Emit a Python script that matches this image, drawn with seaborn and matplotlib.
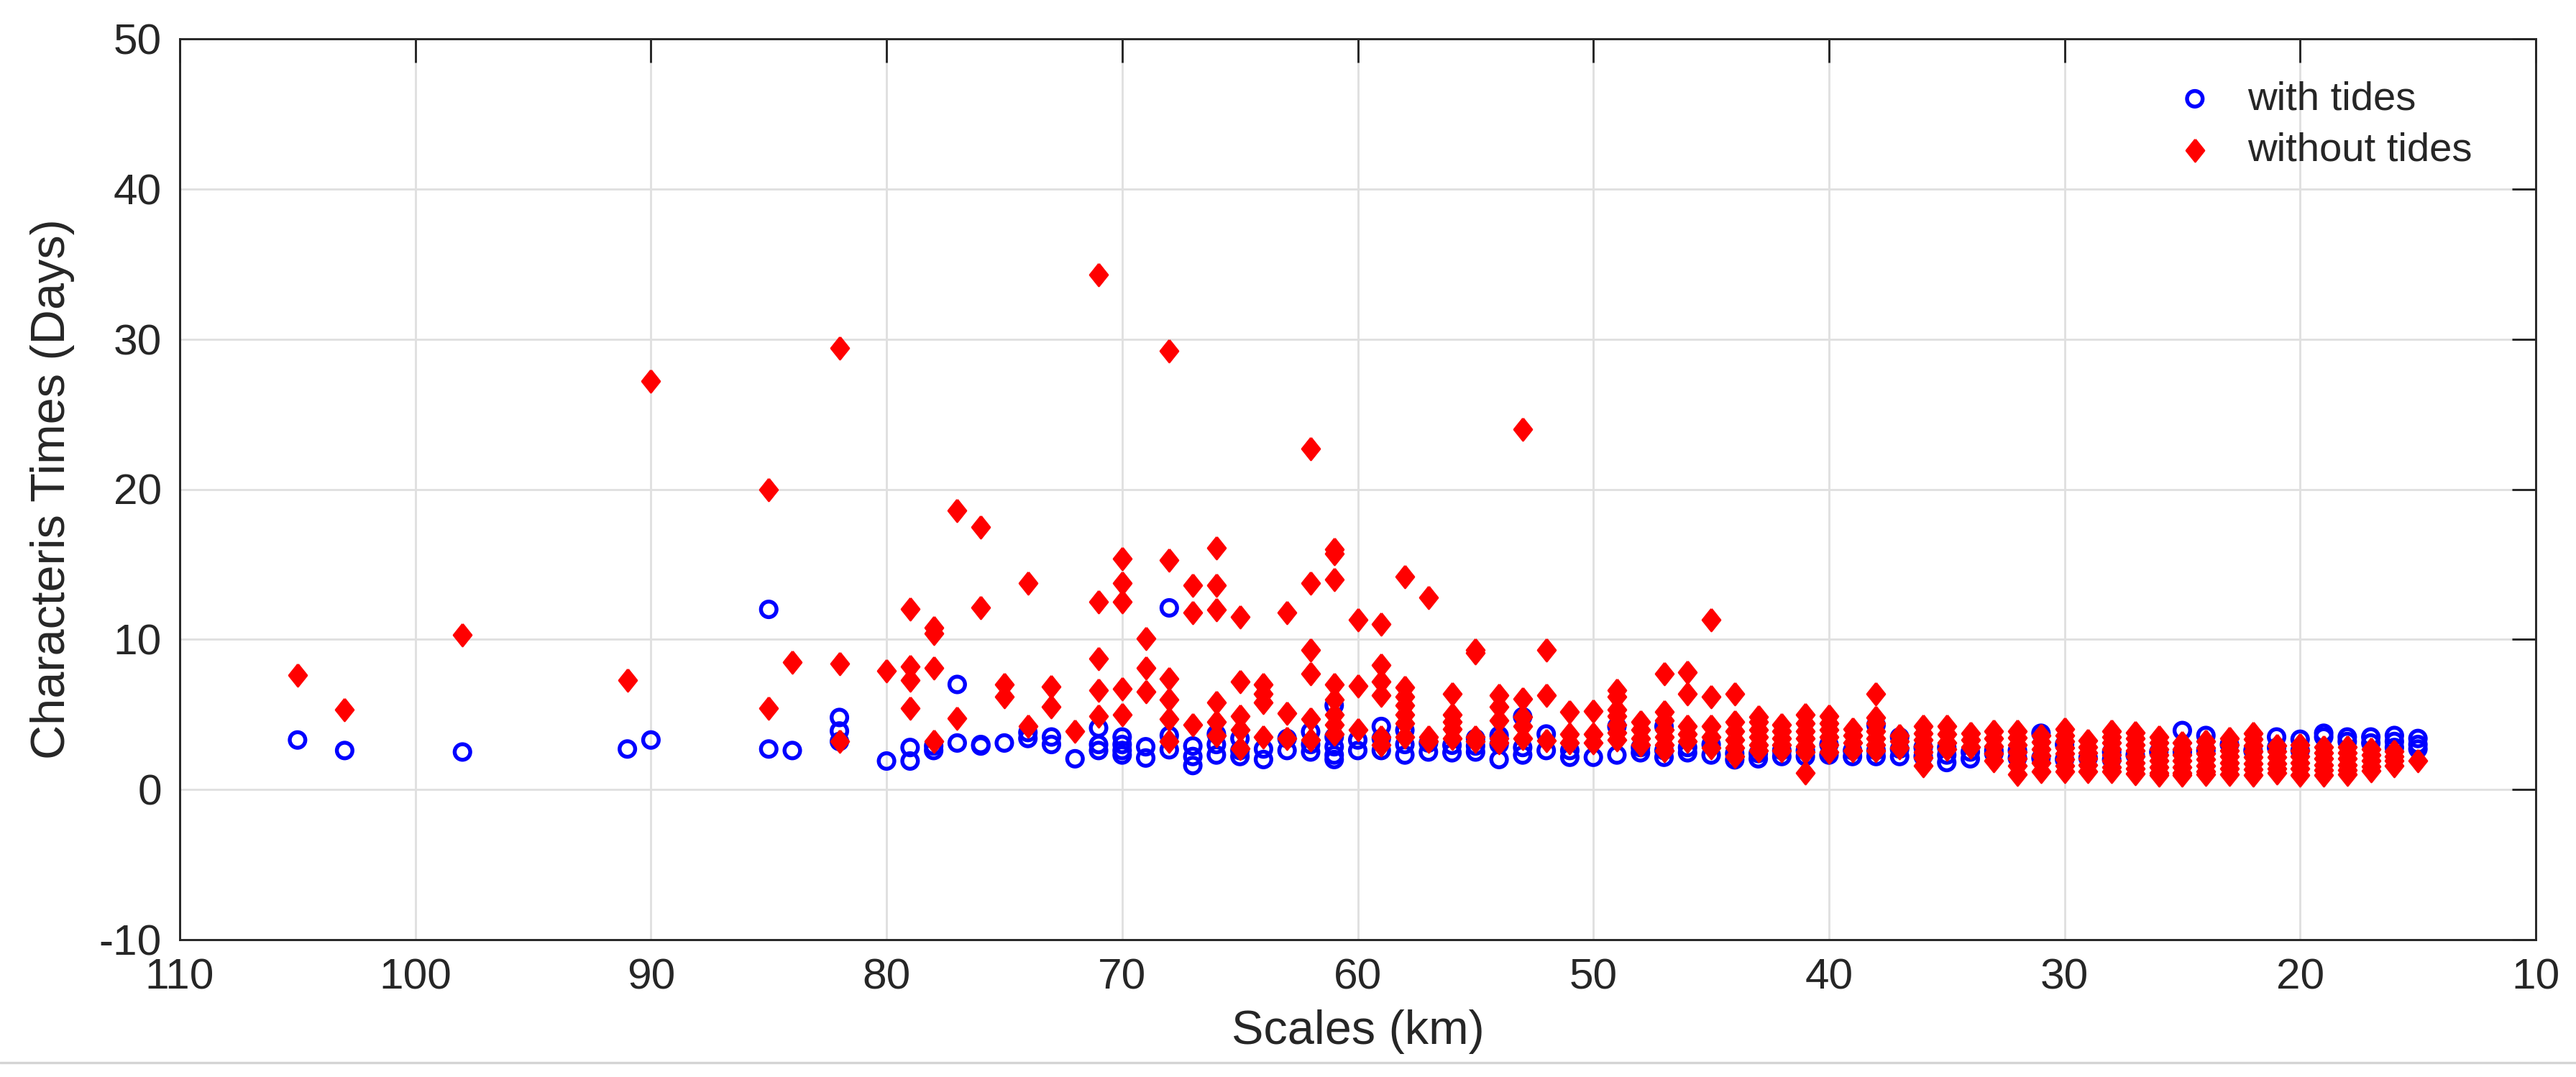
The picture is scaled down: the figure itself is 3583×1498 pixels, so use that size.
import matplotlib
matplotlib.use("Agg")
import matplotlib.pyplot as plt
import pandas as pd
import seaborn as sns
from matplotlib.lines import Line2D

# ---------------- data ----------------
scales = [105, 103, 98, 91, 90, 85, 84, 82, 80, 79, 78, 77, 76, 75, 74, 73, 72,
          71, 70, 69, 68, 67, 66, 65, 64, 63, 62, 61, 60, 59, 58, 57, 56, 55,
          54, 53, 52, 51, 50, 49, 48, 47, 46, 45, 44, 43, 42, 41, 40, 39, 38,
          37, 36, 35, 34, 33, 32, 31, 30, 29, 28, 27, 26, 25, 24, 23, 22, 21,
          20, 19, 18, 17, 16, 15]

with_tides = [
    [3.3], [2.6], [2.5], [2.7], [3.3], [12.0, 2.7], [2.6], [4.8, 3.9, 3.2],
    [1.9], [2.8, 1.9], [2.9, 2.6], [7.0, 3.1], [3.0, 2.9], [3.1], [3.8, 3.4],
    [3.5, 3.0], [2.05],
    [4.1, 3.0, 2.6], [3.5, 3.0, 2.6, 2.3], [2.85, 2.1], [12.1, 3.6, 2.65],
    [2.9, 2.2, 1.6], [3.7, 3.0, 2.3], [3.4, 2.6, 2.2], [2.7, 2.0], [3.4, 2.6],
    [3.85, 3.0, 2.5], [5.6, 3.5, 2.85, 2.3, 2.0], [3.3, 2.6], [4.2, 3.4, 2.6],
    [3.95, 3.0, 2.3], [3.1, 2.5], [2.95, 2.45], [3.4, 2.9, 2.5],
    [3.6, 3.0, 2.0], [4.85, 2.8, 2.3], [3.7, 2.6], [2.6, 2.15], [2.15],
    [4.2, 2.3], [2.45, 2.8], [4.2, 2.15, 2.6], [2.45, 2.8], [2.3, 3.0],
    [1.98, 2.4], [2.05, 2.4], [2.2, 2.6], [2.2, 2.6], [2.3, 3.0], [2.2, 2.6],
    [4.3, 2.2, 2.6],
    [2.2, 2.7, 3.5], [2.2, 2.8], [1.8, 2.3, 2.8], [2.05, 2.5], [2.4, 2.6],
    [2.1, 2.6], [3.75, 2.1], [2.0, 3.0], [2.1], [2.0, 2.5], [2.3], [2.5],
    [3.93, 2.5], [3.6, 2.6], [3.0], [2.6], [3.5, 2.8],
    [3.35, 2.6], [3.75, 3.5], [3.5, 3.2], [3.5, 3.1], [3.6, 3.2, 2.8],
    [3.4, 3.0, 2.7],
]

without_tides = [
    [7.6], [5.3], [10.3], [7.3], [27.2], [20.0, 5.4], [8.5], [29.4, 8.4, 3.2],
    [7.9], [12.05, 8.2, 7.3, 5.4], [10.8, 10.4, 8.1, 3.2], [18.6, 4.75],
    [17.5, 12.1], [7.0, 6.2], [13.75, 4.2], [6.85, 5.5], [3.9],
    [34.3, 12.5, 8.7, 6.6, 4.9], [15.4, 13.75, 12.5, 6.7, 5.0],
    [10.05, 8.1, 6.5], [29.2, 15.3, 7.4, 6.0, 4.7, 3.2], [13.6, 11.8, 4.3],
    [16.1, 13.6, 12.0, 5.8, 4.5, 3.6], [11.5, 7.2, 4.9, 4.0, 2.75],
    [7.0, 6.4, 5.8, 3.5], [11.8, 5.1, 3.4], [22.7, 13.75, 9.3, 7.7, 4.7, 3.3],
    [16.0, 15.7, 14.0, 7.0, 6.0, 5.0, 4.3, 3.7], [11.3, 6.9, 4.0],
    [11.0, 8.3, 7.2, 6.3, 3.5, 3.0], [14.2, 6.8, 6.2, 5.6, 5.0, 4.4, 3.5],
    [12.8, 3.5, 3.2], [6.4, 5.0, 4.5, 4.05, 3.4], [9.3, 9.1, 3.5, 3.2],
    [6.3, 5.5, 4.6, 3.4, 3.1], [24.0, 6.05, 4.85, 4.2, 3.4], [9.3, 6.3, 3.25],
    [5.2, 3.7, 3.1], [5.25, 3.7, 3.1], [6.6, 6.2, 5.3, 4.9, 4.3, 3.8, 3.3],
    [4.5, 4.0, 3.4, 3.0], [7.7, 5.2, 4.6, 4.0, 3.5, 3.0, 2.6],
    [7.8, 6.4, 4.2, 3.7, 3.2], [11.3, 6.2, 4.2, 3.5, 2.8],
    [6.4, 4.5, 3.9, 3.3, 2.8, 2.2], [4.85, 4.5, 4.0, 3.5, 3.0, 2.6],
    [4.3, 3.9, 3.4, 3.0, 2.6], [5.0, 4.4, 3.9, 3.4, 2.9, 2.5, 1.1],
    [4.9, 4.4, 4.0, 3.5, 3.0, 2.5], [4.05, 3.6, 3.1, 2.6],
    [6.4, 4.8, 4.4, 3.9, 3.4, 3.0, 2.6],
    [3.6, 3.2, 2.8], [4.2, 3.75, 3.3, 2.9, 2.5, 2.1, 1.6], [4.2, 3.7, 3.1, 2.7],
    [3.75, 3.3, 2.85], [3.9, 3.4, 2.9, 2.4, 1.9],
    [3.9, 3.45, 3.0, 2.5, 2.05, 1.6, 1.0], [3.6, 3.15, 2.7, 2.25, 1.8, 1.2],
    [4.05, 3.6, 3.2, 2.8, 2.4, 2.0, 1.6, 1.2], [3.25, 2.85, 2.45, 2.05, 1.65, 1.2],
    [3.9, 3.5, 3.1, 2.7, 2.3, 1.9, 1.5, 1.2],
    [3.8, 3.4, 3.0, 2.6, 2.2, 1.8, 1.4, 1.05],
    [3.5, 3.1, 2.7, 2.3, 1.9, 1.5, 1.1, 0.95],
    [3.1, 2.7, 2.3, 1.9, 1.5, 1.1, 0.95], [3.2, 2.8, 2.4, 2.0, 1.6, 1.2, 1.0],
    [3.4, 3.0, 2.6, 2.2, 1.8, 1.4, 1.0],
    [3.75, 3.35, 2.95, 2.55, 2.15, 1.75, 1.35, 0.95],
    [2.95, 2.55, 2.15, 1.75, 1.4, 1.1], [3.0, 2.6, 2.2, 1.8, 1.4, 0.95],
    [2.85, 2.45, 2.05, 1.65, 1.3, 0.95], [2.85, 2.45, 2.05, 1.65, 1.3, 1.0],
    [2.7, 2.3, 1.9, 1.55, 1.25], [2.55, 2.2, 1.9, 1.6], [1.9],
]

series_labels = ["with tides", "without tides"]
x_ticks = [110, 100, 90, 80, 70, 60, 50, 40, 30, 20, 10]
y_ticks = [-10, 0, 10, 20, 30, 40, 50]

# ---------------- build tables ----------------
df_with = pd.DataFrame([(s, d) for s, ds in zip(scales, with_tides) for d in ds],
                       columns=["Scales (km)", "Days"])
df_without = pd.DataFrame([(s, d) for s, ds in zip(scales, without_tides) for d in ds],
                          columns=["Scales (km)", "Days"])

# ---------------- style ----------------
sns.set_style("white")
plt.rcParams["font.family"] = ["Liberation Sans", "DejaVu Sans"]
plt.rcParams["axes.unicode_minus"] = False
TXT = "#262626"

# MATLAB-like diamond: a little taller than wide
diamond = [(0, 1), (0.8, 0), (0, -1), (-0.8, 0), (0, 1)]

fig = plt.figure(figsize=(3583 / 300, 1498 / 300), dpi=300)
ax = fig.add_axes([250 / 3583, 191 / 1498, 3277 / 3583, 1253 / 1498])

sns.scatterplot(data=df_with, x="Scales (km)", y="Days", ax=ax, marker="o",
                s=27, facecolors="none", edgecolor="#0000ff", color="#0000ff",
                linewidth=1.3, label=series_labels[0], zorder=3)
sns.scatterplot(data=df_without, x="Scales (km)", y="Days", ax=ax, marker=diamond,
                s=55, color="#ff0000", edgecolor="#ff0000", linewidth=0.7,
                label=series_labels[1], zorder=4)

ax.set_xlim(110, 10)
ax.set_ylim(-10, 50)
ax.set_xticks(x_ticks)
ax.set_yticks(y_ticks)
ax.grid(True, color="#e0e0e0", linewidth=0.7, zorder=0)
ax.set_axisbelow(True)

for sp in ax.spines.values():
    sp.set_visible(True)
    sp.set_color(TXT)
    sp.set_linewidth(0.7)

ax.tick_params(axis="both", which="major", direction="in", length=8, width=0.7,
               color=TXT, labelcolor=TXT, labelsize=14.5, top=True, right=True,
               pad=6)
ax.set_xlabel("Scales (km)", fontsize=16, color=TXT, labelpad=4)
ax.set_ylabel("Characteris Times (Days)", fontsize=16, color=TXT, labelpad=8)

leg = ax.legend(loc="upper right", bbox_to_anchor=(0.985, 0.985), frameon=False,
                fontsize=13.5, handletextpad=0.5, handlelength=1.6,
                labelspacing=0.35, borderaxespad=0.3, markerscale=1.0)
for t in leg.get_texts():
    t.set_color(TXT)

# thin border line near the bottom of the picture
fig.add_artist(Line2D([0, 1], [20 / 1498, 20 / 1498], color="#d4d4d4",
                      linewidth=0.8, transform=fig.transFigure))

fig.savefig("out.png", dpi=300, facecolor="white")
